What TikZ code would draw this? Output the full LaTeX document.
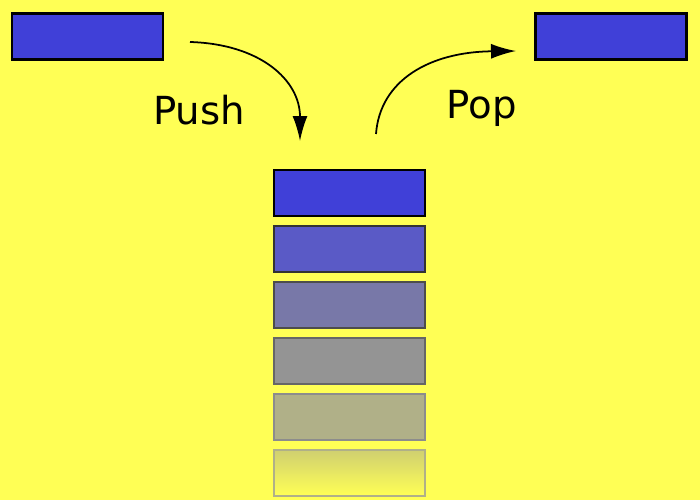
\documentclass[tikz,border=0pt]{standalone}
\usepackage{fontspec}
\setmainfont{DejaVu Sans}
\usetikzlibrary{arrows.meta}
\definecolor{bg}{HTML}{FFFF55}
\definecolor{c0}{HTML}{4040D8}
\definecolor{c1}{HTML}{5A5AC6}
\definecolor{c2}{HTML}{7878A8}
\definecolor{c3}{HTML}{949494}
\definecolor{c4}{HTML}{B0B088}
\definecolor{c5}{HTML}{D0D070}
\tikzset{
	item/.style={draw, line width=1.2pt, minimum width=3.02cm, minimum height=0.92cm, inner sep=0pt},
	move/.style={-{Latex[length=0.5cm, width=0.3cm]}, line width=1pt},
	word/.style={font=\fontsize{22}{0}\selectfont}
}
\begin{document}
\begin{tikzpicture}[x=0.02cm, y=-0.02cm]

	\fill[bg] (0,0) rectangle (700,500);
	\useasboundingbox (0,0) rectangle (700,500);

	\node[item, fill=c0] (in) at (87.5,36.5) {};
	\node[item, fill=c0] (out) at (611,36.5) {};

	\node[item, fill=c0, draw=black] (s0) at (349.5,193) {};
	\node[item, fill=c1, draw=black!80] (s1) at (349.5,249) {};
	\node[item, fill=c2, draw=black!70] (s2) at (349.5,305) {};
	\node[item, fill=c3, draw=black!60] (s3) at (349.5,361) {};
	\node[item, fill=c4, draw=black!45] (s4) at (349.5,417) {};
	\node[item, top color=bg, bottom color=c5, shading angle=180, draw=c4] (s5) at (349.5,473) {};

	\coordinate (pushstart) at (190,42);
	\coordinate (pushend) at (300,141);
	\coordinate (popstart) at (376,134);
	\coordinate (popend) at (516,51);

	\draw[move] (pushstart) .. controls (260,44) and (300,80) .. (pushend);
	\draw[move] (popstart) .. controls (380,80) and (430,52) .. (popend);

	\node[word] (push) at (199,110) {Push};
	\node[word] (pop) at (482,108) {Pop};
\end{tikzpicture}
\end{document}
